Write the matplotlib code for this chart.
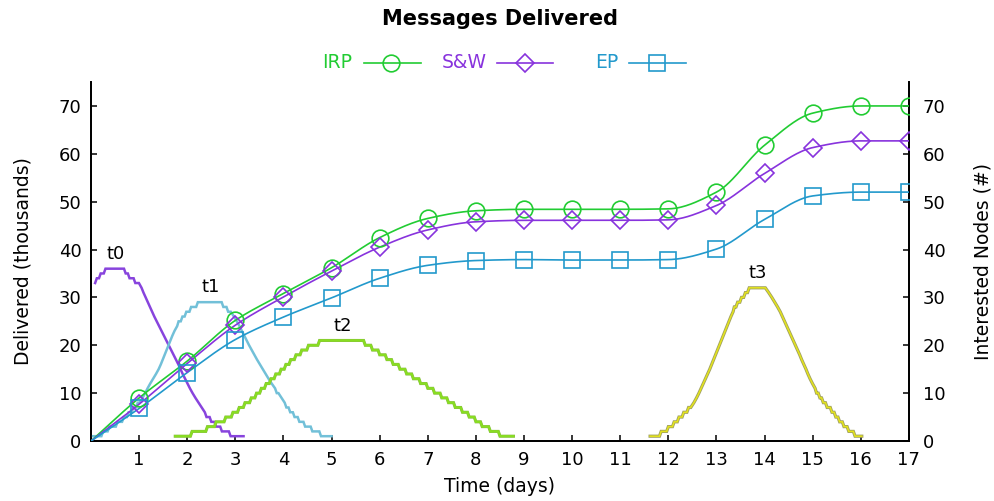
import numpy as np
import matplotlib
matplotlib.use("Agg")
import matplotlib.pyplot as plt
from matplotlib.lines import Line2D
import matplotlib.patheffects as pe

# ---- delivered messages (thousands), one value per day ----
days = [0, 1, 2, 3, 4, 5, 6, 7, 8, 9, 10, 11, 12, 13, 14, 15, 16, 17]
irp = [0, 9.0, 16.7, 25.2, 30.8, 36.2, 42.5, 46.5, 48.1, 48.4, 48.4, 48.4, 48.5, 52.0, 61.8, 68.5, 70.0, 70.0]
snw = [0, 7.7, 16.2, 24.2, 30.1, 35.5, 40.5, 44.1, 45.8, 46.1, 46.1, 46.1, 46.2, 49.2, 55.9, 61.3, 62.7, 62.7]
ep = [0, 6.8, 14.3, 21.2, 25.9, 29.9, 34.0, 36.7, 37.7, 37.9, 37.8, 37.8, 37.9, 40.1, 46.3, 51.2, 52.0, 52.0]

# ---- interested nodes: step edges (days) and node counts between edges ----
t0_edges = [0.05, 0.12, 0.2, 0.3, 0.72, 0.8, 0.92, 1.03, 1.07, 1.11, 1.16, 1.2, 1.25, 1.29, 1.34,
            1.39, 1.44, 1.49, 1.54, 1.59, 1.64, 1.69, 1.74, 1.79, 1.84, 1.88, 1.93, 1.98, 2.03,
            2.08, 2.14, 2.2, 2.27, 2.33, 2.4, 2.5, 2.6, 2.72, 2.9, 3.17]
t0_nodes = [33, 34, 35, 36, 35, 34, 33, 32, 31, 30, 29, 28, 27, 26, 25, 24, 23, 22, 21, 20, 19,
            18, 17, 16, 15, 14, 13, 12, 11, 10, 9, 8, 7, 6, 5, 4, 3, 2, 1]

t1_edges = [0.0, 0.25, 0.38, 0.55, 0.68, 0.78, 0.88, 0.97, 1.04, 1.1, 1.15, 1.2, 1.26, 1.32, 1.38,
            1.43, 1.47, 1.51, 1.55, 1.59, 1.63, 1.67, 1.71, 1.76, 1.82, 1.9, 1.98, 2.08, 2.22,
            2.75, 2.85, 2.94, 3.0, 3.06, 3.11, 3.16, 3.21, 3.26, 3.31, 3.37, 3.42, 3.48, 3.54,
            3.6, 3.66, 3.72, 3.79, 3.86, 3.93, 3.99, 4.06, 4.14, 4.23, 4.33, 4.45, 4.6, 4.78, 5.0]
t1_nodes = [1, 2, 3, 4, 5, 6, 7, 8, 9, 10, 11, 12, 13, 14, 15, 16, 17, 18, 19, 20, 21, 22, 23, 24,
            25, 26, 27, 28, 29, 28, 27, 26, 25, 24, 23, 22, 21, 20, 19, 18, 17, 16, 15, 14, 13,
            12, 11, 10, 9, 8, 7, 6, 5, 4, 3, 2, 1]

t2_edges = [1.75, 2.1, 2.42, 2.6, 2.8, 2.95, 3.08, 3.2, 3.33, 3.44, 3.54, 3.64, 3.74, 3.84, 3.95,
            4.05, 4.15, 4.26, 4.38, 4.52, 4.75, 5.7, 5.85, 6.0, 6.15, 6.28, 6.42, 6.56, 6.7, 6.85,
            7.0, 7.14, 7.29, 7.43, 7.57, 7.72, 7.86, 8.0, 8.13, 8.3, 8.5, 8.78]
t2_nodes = [1, 2, 3, 4, 5, 6, 7, 8, 9, 10, 11, 12, 13, 14, 15, 16, 17, 18, 19, 20, 21, 20, 19, 18,
            17, 16, 15, 14, 13, 12, 11, 10, 9, 8, 7, 6, 5, 4, 3, 2, 1]

t3_edges = [11.62, 11.85, 12.0, 12.12, 12.22, 12.32, 12.42, 12.5, 12.56, 12.61, 12.66, 12.7, 12.75,
            12.79, 12.84, 12.88, 12.92, 12.96, 13.0, 13.04, 13.08, 13.12, 13.16, 13.2, 13.24,
            13.28, 13.32, 13.37, 13.44, 13.52, 13.6, 13.68, 14.05, 14.12, 14.18, 14.24, 14.3,
            14.35, 14.39, 14.44, 14.48, 14.53, 14.57, 14.62, 14.66, 14.71, 14.75, 14.79, 14.84,
            14.88, 14.92, 14.97, 15.02, 15.08, 15.15, 15.22, 15.3, 15.4, 15.48, 15.56, 15.65,
            15.75, 15.88, 16.02]
t3_nodes = [1, 2, 3, 4, 5, 6, 7, 8, 9, 10, 11, 12, 13, 14, 15, 16, 17, 18, 19, 20, 21, 22, 23, 24,
            25, 26, 27, 28, 29, 30, 31, 32, 31, 30, 29, 28, 27, 26, 25, 24, 23, 22, 21, 20, 19,
            18, 17, 16, 15, 14, 13, 12, 11, 10, 9, 8, 7, 6, 5, 4, 3, 2, 1]

tick_days = list(range(1, 18))
tick_values = list(range(0, 80, 10))

C_IRP = "#22cc33"
C_SNW = "#8833dd"
C_EP = "#2299cc"
C_T0 = "#8844dd"
C_T1 = "#72c0d8"
C_T2 = "#88dd22"
C_T3 = "#e4e41c"


def smooth(x, y, n=30):
    """Monotone cubic Hermite curve through the given points (for the line only)."""
    x = np.asarray(x, float)
    y = np.asarray(y, float)
    h = np.diff(x)
    d = np.diff(y) / h
    m = np.zeros_like(y)
    m[0], m[-1] = d[0], d[-1]
    for i in range(1, len(x) - 1):
        if d[i - 1] * d[i] <= 0:
            m[i] = 0.0
        else:
            w1 = 2 * h[i] + h[i - 1]
            w2 = h[i] + 2 * h[i - 1]
            m[i] = (w1 + w2) / (w1 / d[i - 1] + w2 / d[i])
    xs, ys = [], []
    for i in range(len(x) - 1):
        t = np.linspace(0, 1, n, endpoint=False)
        h00 = 2 * t**3 - 3 * t**2 + 1
        h10 = t**3 - 2 * t**2 + t
        h01 = -2 * t**3 + 3 * t**2
        h11 = t**3 - t**2
        xs.append(x[i] + t * h[i])
        ys.append(h00 * y[i] + h10 * h[i] * m[i] + h01 * y[i + 1] + h11 * h[i] * m[i + 1])
    xs.append([x[-1]])
    ys.append([y[-1]])
    return np.concatenate(xs), np.concatenate(ys)


def level_path(edges, nodes, ramp=0.035):
    """Vertices for a count curve: each level held flat, short ramps between levels."""
    xs, ys = [], []
    for i, v in enumerate(nodes):
        a, b = edges[i], edges[i + 1]
        last = i == len(nodes) - 1
        if last:
            xs += [a, b]
            ys += [v, v]
        elif b - a > 2 * ramp:
            xs += [a, b - ramp]
            ys += [v, v]
        else:
            xs.append((a + b) / 2)
            ys.append(v)
    return xs, ys


fig = plt.figure(figsize=(9.95, 5.01), dpi=100)
ax = fig.add_axes([0.0915, 0.1198, 0.822, 0.7165])
ax2 = ax.twinx()

for a in (ax, ax2):
    a.set_xlim(0, 17)
    a.set_ylim(0, 75)
    a.spines["top"].set_visible(False)
    for s in ("left", "right", "bottom"):
        a.spines[s].set_linewidth(1.3)

# interested-node curves (right axis)
for edges, nodes, col, lw, fx in ((t0_edges, t0_nodes, C_T0, 1.8, None),
                                  (t1_edges, t1_nodes, C_T1, 1.8, None),
                                  (t2_edges, t2_nodes, C_T2, 1.6, ("#88bb44", 2.2)),
                                  (t3_edges, t3_nodes, C_T3, 1.1, ("#a0a060", 2.3))):
    px, py = level_path(edges, nodes)
    effects = [pe.Stroke(linewidth=fx[1], foreground=fx[0]), pe.Normal()] if fx else None
    ax2.plot(px, py, color=col, lw=lw, solid_joinstyle="miter", path_effects=effects, zorder=2)

for name, edges, nodes in (("t0", t0_edges, t0_nodes), ("t1", t1_edges, t1_nodes),
                           ("t2", t2_edges, t2_nodes), ("t3", t3_edges, t3_nodes)):
    peak = max(nodes)
    idx = [i for i, v in enumerate(nodes) if v == peak]
    xc = (edges[idx[0]] + edges[idx[-1] + 1]) / 2
    ax2.text(xc, peak + 1.2, name, ha="center", va="bottom", fontsize=13)

# delivered messages (left axis)
for vals, col, mk, ms in ((irp, C_IRP, "o", 12), (snw, C_SNW, "D", 9.5), (ep, C_EP, "s", 11.5)):
    sx, sy = smooth(days, vals)
    ax2.plot(sx, sy, color=col, lw=1.2, zorder=3)
    ax2.plot(days[1:], vals[1:], ls="none", marker=mk, ms=ms, mfc="none", mec=col, mew=1.2, zorder=4)

ax.set_xticks(tick_days)
ax.set_yticks(tick_values)
ax2.set_yticks(tick_values)
ax.tick_params(axis="both", direction="in", length=4, width=1.1, labelsize=13)
ax.tick_params(axis="y", pad=7)
ax.tick_params(axis="x", pad=7)
ax2.tick_params(axis="y", direction="in", length=4, width=1.1, labelsize=13, pad=10)

ax.set_xlabel("Time (days)", fontsize=13.5, labelpad=6)
ax.set_ylabel("Delivered (thousands)", fontsize=13.5, labelpad=19)
ax2.set_ylabel("Interested Nodes (#)", fontsize=13.5, labelpad=20)

fig.text(0.503, 0.962, "Messages Delivered", ha="center", va="center", fontsize=15, fontweight="bold")

# legend row along the top
W, H = 995.0, 501.0
ly = 1 - 62.5 / H
for label, col, mk, ms, tx, x0, x1, xm in (("IRP", C_IRP, "o", 12, 352, 364, 421, 391),
                                          ("S&W", C_SNW, "D", 9.5, 487, 497, 553, 525),
                                          ("EP", C_EP, "s", 11.5, 618, 629, 686, 657)):
    fig.text(tx / W, ly, label, color=col, ha="right", va="center", fontsize=13.5)
    fig.add_artist(Line2D([x0 / W, x1 / W], [ly, ly], transform=fig.transFigure, color=col, lw=1.2))
    fig.add_artist(Line2D([xm / W], [ly], transform=fig.transFigure, ls="none", marker=mk, ms=ms,
                          mfc="none", mec=col, mew=1.2))

fig.savefig("out.png", dpi=100)
